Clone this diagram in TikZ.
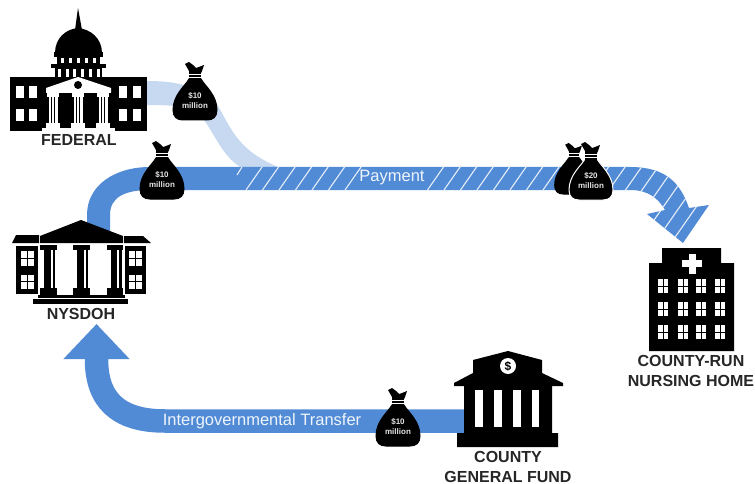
\documentclass[tikz,border=0pt]{standalone}
\usepackage{fontspec}
\setmainfont{Liberation Sans}
\usetikzlibrary{arrows.meta}
\definecolor{flowblue}{HTML}{528BD5}
\definecolor{flowlight}{HTML}{C6D9F1}
\tikzset{
  place/.style={font=\bfseries\fontsize{16}{20}\selectfont, align=center, text=black!85, inner sep=0pt},
  flowtext/.style={font=\fontsize{16.5}{16.5}\selectfont, text=white!90!flowblue},
  bagtext/.style={font=\bfseries\fontsize{8}{10}\selectfont, align=center, text=white!90!black},
  hatch/.style={white!85!flowblue, line width=1.1pt}
}
\newcommand{\moneybag}[6]{
  \begin{scope}[shift={(#2,#3)},scale=#4]
    \filldraw[fill=black,draw=#5,line width=1pt] (-6,17) .. controls (-10,24) and (-22,33) .. (-22,48) .. controls (-22,55) and (-18,58) .. (-12,58) -- (12,58) .. controls (18,58) and (22,55) .. (22,48) .. controls (22,33) and (10,24) .. (6,17) -- cycle;
    \fill (-6,9) rectangle (6,18);
    \fill (-10,2) -- (-6,0) -- (-2,3) -- (1,6) -- (4,5) -- (9,3) -- (7,9) -- (5,13) -- (-5,13) -- (-6,9) -- cycle;
    \draw[white,line width=0.8pt] (-6,12) -- (6,12) (-6,15) -- (6,15);
    \node[bagtext] (#1) at (0,39) {#6};
  \end{scope}
}
\begin{document}
\begin{tikzpicture}[x=1pt,y=-1pt]
  \useasboundingbox (0,0) rectangle (755,484);
  % federal share
  \fill[flowlight] (147,81) .. controls (185,81) and (205,90) .. (218,106) .. controls (232,130) and (238,150) .. (278,167) -- (240,167) .. controls (222,155) and (215,135) .. (204,120) .. controls (195,107) and (180,105) .. (147,105) -- cycle;
  % payment arrow
  \fill[flowblue] (87,240) -- (87,215) .. controls (87,185) and (115,167) .. (150,167) -- (630,167) .. controls (665,167) and (680,182) .. (689,208) -- (709,205) -- (683,243) -- (647,214) -- (665,210) .. controls (658,198) and (648,190) .. (630,190) -- (150,190) .. controls (125,190) and (110,197) .. (110,215) -- (110,240) -- cycle;
  \begin{scope}
    \clip (87,240) -- (87,215) .. controls (87,185) and (115,167) .. (150,167) -- (630,167) .. controls (665,167) and (680,182) .. (689,208) -- (709,205) -- (683,243) -- (647,214) -- (665,210) .. controls (658,198) and (648,190) .. (630,190) -- (150,190) .. controls (125,190) and (110,197) .. (110,215) -- (110,240) -- cycle;
    \draw[hatch] (237,175) -- (242,167);
    \foreach \k in {0,...,6,11,12,...,30}
      \draw[hatch] ({246+16.5*\k},190) -- ({246+16.5*\k+60},{190-86});
    \foreach \k in {23,...,30}
      \draw[hatch] ({246+16.5*\k},190) -- ({246+16.5*\k-60},{190+86});
  \end{scope}
  \node[flowtext] (payment) at (392,178) {Payment};
  % transfer arrow
  \coordinate (countyout) at (465,421);
  \coordinate (bend) at (165,421);
  \coordinate (neck) at (96.5,359);
  \coordinate (nysdohin) at (96.5,324);
  \draw[flowblue,line width=23.5pt,-{Triangle[width=64pt,length=35pt]}] (countyout) -- (bend) .. controls (118,421) and (96.5,400) .. (neck) -- (nysdohin);
  \node[flowtext] (transfer) at (262,421) {Intergovernmental Transfer};
  % federal building
  \fill (10,77) rectangle (147,131);
  \fill (75,30) -- (78,8) -- (82,30) -- cycle;
  \fill (55,53) .. controls (55,38) and (66,29) .. (78,28) .. controls (90,29) and (102,38) .. (102,53) -- cycle;
  \fill (54,52) rectangle (103,57);
  \fill (57,57) rectangle (100,64);
  \fill (51,64) rectangle (106,68);
  \fill (55,68) rectangle (102,77);
  \foreach \x in {62.5,70.5,78,86,94} \fill[white] (\x-1.5,58) rectangle (\x+1.5,63);
  \foreach \x in {59,67,74,82,90,98} \fill[white] (\x-1.5,69) rectangle (\x+1.5,77);
  \foreach \x in {16,29,119,133} \foreach \y in {86,109} \fill[white] (\x,\y) rectangle (\x+8,\y+12.5);
  \fill[white] (46,88) -- (78,77) -- (111,88) -- (111,93) -- (46,93) -- cycle;
  \fill (78,85) circle (4);
  \foreach \x in {53,78,103} {
    \fill[white] (\x-6,93) rectangle (\x+6,97);
    \fill[white] (\x-4.5,97) rectangle (\x+4.5,123);
    \draw[black,line width=0.7pt] (\x-1.5,97) -- (\x-1.5,123) (\x+1.5,97) -- (\x+1.5,123);
    \fill[white] (\x-7,123) rectangle (\x+7,128);
  }
  \fill[white] (42,128) rectangle (115,131);
  \node[place] (federal) at (79,140) {FEDERAL};
  % state building
  \fill (12,243) -- (16,235) -- (39,235) -- (39,243) -- cycle;
  \fill (151,243) -- (143,236) -- (124,236) -- (124,243) -- cycle;
  \fill (40,243) -- (40,236) -- (81,220) -- (123,236) -- (123,243) -- cycle;
  \fill (16,246) rectangle (38,294);
  \fill (125,246) rectangle (146,294);
  \foreach \x in {21,129} \foreach \y in {251,274.5} {
    \fill[white] (\x,\y) rectangle (\x+12.5,\y+14.5);
    \draw[black,line width=0.8pt] (\x+6.25,\y) -- (\x+6.25,\y+14.5) (\x,\y+7.25) -- (\x+12.5,\y+7.25);
  }
  \foreach \x in {40,73,106.5} {
    \fill (\x,245) rectangle (\x+16.5,250);
    \fill (\x+4,250) rectangle (\x+15,288);
    \fill[white] (\x+10.5,250) rectangle (\x+12.5,288);
    \fill (\x,288) rectangle (\x+16.5,296);
  }
  \fill (38,295) rectangle (125,298);
  \fill (33,298.5) rectangle (128,304);
  \node[place] (nysdoh) at (81,314) {NYSDOH};
  % county building
  \fill (454,383) -- (473,373) -- (473,360) -- (508,351) -- (542,360) -- (542,373) -- (563,383) -- (563,386) -- (552,386) -- (552,433) -- (558,433) -- (558,447) -- (457,447) -- (457,433) -- (464,433) -- (464,386) -- (454,386) -- cycle;
  \foreach \x in {475,494,513,531.5} \fill[white] (\x,390) rectangle (\x+7.5,427);
  \node[circle,fill=white,minimum size=16pt,inner sep=0pt,font=\bfseries\fontsize{12}{12}\selectfont] (dollar) at (508,366) {\$};
  \node[place] (county) at (508,457) {COUNTY};
  \node[place] (fund) at (508,477) {GENERAL FUND};
  % nursing home
  \fill (649,351) -- (649,263) -- (662,263) -- (662,248) -- (721,248) -- (721,263) -- (734,263) -- (734,351) -- cycle;
  \fill[white] (682,260) rectangle (702,267);
  \fill[white] (688.5,253.5) rectangle (695.5,273.5);
  \foreach \x in {663,683,701,720} \foreach \y in {286,309,332} {
    \fill[white] (\x-5,\y-7) rectangle (\x+5,\y+7);
    \draw[black,line width=0.8pt] (\x,\y-7) -- (\x,\y+7) (\x-5,\y) -- (\x+5,\y);
  }
  \node[place] (home) at (691,371) {COUNTY-RUN\\NURSING HOME};
  % money bags
  \moneybag{bagfederal}{195}{62}{1}{black}{\$10\\million}
  \moneybag{bagstate}{162}{141}{1}{black}{\$10\\million}
  \moneybag{bagcounty}{398}{388}{1}{black}{\$10\\million}
  \moneybag{bagback}{574}{143}{0.88}{black}{}
  \moneybag{bagfront}{591}{142}{1}{white}{\$20\\million}
\end{tikzpicture}
\end{document}
